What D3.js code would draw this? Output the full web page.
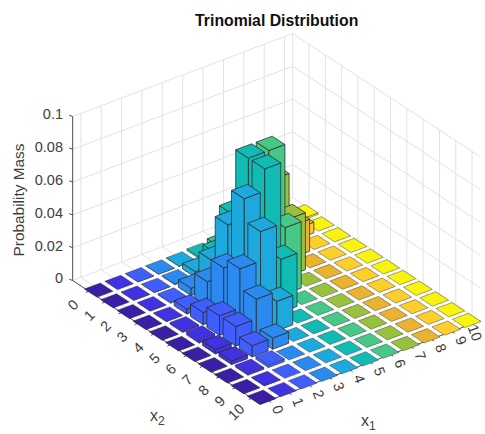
<!DOCTYPE html>
<html>
<head>
<meta charset="utf-8">
<script src="https://cdn.jsdelivr.net/npm/d3@7"></script>
<style>
  html, body { margin: 0; background: #fff; }
  text { font-family: "Liberation Sans", Arial, sans-serif; fill: #404040; }
</style>
</head>
<body>
<script>
var ticks = d3.range(0, 11),
    zTicks = [0, 0.02, 0.04, 0.06, 0.08, 0.1],
    zLabels = ["0", "0.02", "0.04", "0.06", "0.08", "0.1"];

// bar colour per x1 column
var colors = ["#3a1fa6", "#4032e2", "#3f5efc", "#2b8af0", "#1ea9de", "#10bbb4",
              "#47c886", "#98c23e", "#e9b22f", "#fccf2d", "#f8f40f"];

// heights, one list per x1, indexed by x2
var x1_0 = [0, 0, 0, 0.00002, 0.00006, 0.00013, 0.00022, 0.00025, 0.00019, 0.00008, 0.00002],
    x1_1 = [0, 0.00001, 0.00007, 0.00033, 0.001, 0.002, 0.00267, 0.00229, 0.00114, 0.00025, 0],
    x1_2 = [0.00001, 0.00011, 0.00075, 0.003, 0.0075, 0.012, 0.012, 0.00686, 0.00171, 0, 0],
    x1_3 = [0.00005, 0.00075, 0.0045, 0.015, 0.03, 0.036, 0.024, 0.00686, 0, 0, 0],
    x1_4 = [0.00028, 0.00338, 0.01688, 0.045, 0.0675, 0.054, 0.018, 0, 0, 0, 0],
    x1_5 = [0.00101, 0.01013, 0.0405, 0.081, 0.081, 0.0324, 0, 0, 0, 0, 0],
    x1_6 = [0.00253, 0.02026, 0.06076, 0.081, 0.0405, 0, 0, 0, 0, 0, 0],
    x1_7 = [0.00434, 0.02604, 0.05208, 0.03472, 0, 0, 0, 0, 0, 0, 0],
    x1_8 = [0.00488, 0.01953, 0.01953, 0, 0, 0, 0, 0, 0, 0, 0],
    x1_9 = [0.00326, 0.00651, 0, 0, 0, 0, 0, 0, 0, 0, 0],
    x1_10 = [0.00098, 0, 0, 0, 0, 0, 0, 0, 0, 0, 0];
var heights = [x1_0, x1_1, x1_2, x1_3, x1_4, x1_5, x1_6, x1_7, x1_8, x1_9, x1_10];

var width = 485,
    height = 434,
    x1Lim = [-0.4, 10.4],
    x2Lim = [-1, 10.5],
    zLim = [0, 0.1],
    halfBar = 0.39;

// left corner of the floor in pixels, the oblique axes are added onto it
var originX = 72.7,
    originY = 280.5;

var x1ToX = d3.scaleLinear().domain(x1Lim).range([0, 220]),
    x1ToY = d3.scaleLinear().domain(x1Lim).range([0, -83]),
    x2ToX = d3.scaleLinear().domain(x2Lim).range([0, 187.5]),
    x2ToY = d3.scaleLinear().domain(x2Lim).range([0, 123.2]),
    zToY = d3.scaleLinear().domain(zLim).range([0, -164]);

function project(x1, x2, z) {
  return [originX + x1ToX(x1) + x2ToX(x2),
          originY + x1ToY(x1) + x2ToY(x2) + zToY(z)];
}

// bars sit a little off the wall grid in the reference
function barProject(x1, x2, z) {
  var p = project(x1, x2, z);
  return [p[0] + 1.5 + x1 * 0.13, p[1] + 2];
}

var svg = d3.select("body").append("svg")
    .attr("width", width)
    .attr("height", height)
    .style("display", "block");

function segment(g, a, b) {
  return g.append("line")
      .attr("x1", a[0]).attr("y1", a[1])
      .attr("x2", b[0]).attr("y2", b[1]);
}

// grid on the two back walls and the floor
var grid = svg.append("g")
    .attr("stroke", "#e2e2e2")
    .attr("stroke-width", 1)
    .attr("fill", "none");

zTicks.forEach((z) => {
  segment(grid, project(x1Lim[0], x2Lim[0], z), project(x1Lim[1], x2Lim[0], z));
  segment(grid, project(x1Lim[1], x2Lim[0], z), project(x1Lim[1], x2Lim[1], z));
});
segment(grid, project(x1Lim[1], x2Lim[0], 0), project(x1Lim[1], x2Lim[0], zLim[1]));
ticks.forEach((t) => {
  segment(grid, project(t, x2Lim[0], 0), project(t, x2Lim[0], zLim[1]));
  segment(grid, project(x1Lim[1], t, 0), project(x1Lim[1], t, zLim[1]));
  segment(grid, project(t, x2Lim[0], 0), project(t, x2Lim[1], 0));
  segment(grid, project(x1Lim[0], t, 0), project(x1Lim[1], t, 0));
});

// axes lines
var axes = svg.append("g")
    .attr("stroke", "#4d4d4d")
    .attr("stroke-width", 1)
    .attr("fill", "none");

segment(axes, project(x1Lim[0], x2Lim[0], 0), project(x1Lim[0], x2Lim[0], zLim[1]));
segment(axes, project(x1Lim[0], x2Lim[0], 0), project(x1Lim[0], x2Lim[1], 0));
segment(axes, project(x1Lim[0], x2Lim[1], 0), project(x1Lim[1], x2Lim[1], 0));

zTicks.forEach((z) => {
  var p = project(x1Lim[0], x2Lim[0], z);
  segment(axes, p, [p[0] - 3.5, p[1] - 1.3]);
});
ticks.forEach((t) => {
  var a = project(t, x2Lim[1], 0),
      b = project(x1Lim[0], t, 0);
  segment(axes, a, [a[0] + 2.7, a[1] + 1.8]);
  segment(axes, b, [b[0] - 3.2, b[1] + 1.2]);
});

// bars back to front: far x1 first, then near x2 last
var cells = [];
d3.range(10, -1, -1).forEach((i) => {
  ticks.forEach((j) => {
    cells.push({x1: i, x2: j, z: heights[i][j]});
  });
});

function facePath(pts) {
  return d3.line()(pts) + "Z";
}

var bar = svg.append("g").selectAll(".bar")
    .data(cells)
  .enter().append("g")
    .attr("class", "bar")
    .attr("fill", (d) => colors[d.x1])
    .attr("stroke", "#2a2a2a")
    .attr("stroke-width", (d) => d.z > 0.002 ? 0.9 : 0.7)
    .attr("stroke-opacity", (d) => d.z > 0.002 ? 0.85 : 0.6)
    .attr("stroke-linejoin", "round");

// face towards the x1 = 0 side
bar.filter((d) => d.z > 0).append("path")
    .attr("d", (d) => facePath([
      barProject(d.x1 - halfBar, d.x2 - halfBar, d.z),
      barProject(d.x1 - halfBar, d.x2 + halfBar, d.z),
      barProject(d.x1 - halfBar, d.x2 + halfBar, 0),
      barProject(d.x1 - halfBar, d.x2 - halfBar, 0)
    ]));

// face towards the x2 = 10 side
bar.filter((d) => d.z > 0).append("path")
    .attr("d", (d) => facePath([
      barProject(d.x1 - halfBar, d.x2 + halfBar, d.z),
      barProject(d.x1 + halfBar, d.x2 + halfBar, d.z),
      barProject(d.x1 + halfBar, d.x2 + halfBar, 0),
      barProject(d.x1 - halfBar, d.x2 + halfBar, 0)
    ]));

// top
bar.append("path")
    .attr("d", (d) => facePath([
      barProject(d.x1 - halfBar, d.x2 - halfBar, d.z),
      barProject(d.x1 + halfBar, d.x2 - halfBar, d.z),
      barProject(d.x1 + halfBar, d.x2 + halfBar, d.z),
      barProject(d.x1 - halfBar, d.x2 + halfBar, d.z)
    ]));

// tick labels
svg.append("g").selectAll("text")
    .data(zTicks)
  .enter().append("text")
    .attr("x", 63)
    .attr("y", (d) => project(x1Lim[0], x2Lim[0], d)[1] + 2.8)
    .attr("text-anchor", "end")
    .attr("font-size", 14.5)
    .text((d, i) => zLabels[i]);

svg.append("g").selectAll("text")
    .data(ticks)
  .enter().append("text")
    .attr("transform", (d) => {
      var p = project(d, x2Lim[1], 0);
      return `translate(${Math.min(p[0] + 9.5, 475)},${p[1] + 9}) rotate(70)`;
    })
    .attr("text-anchor", "middle")
    .attr("dy", ".35em")
    .attr("font-size", 14.5)
    .text((d) => d);

svg.append("g").selectAll("text")
    .data(ticks)
  .enter().append("text")
    .attr("transform", (d) => {
      var p = project(x1Lim[0], d, 0);
      return `translate(${p[0] - 16},${p[1] + 13.5}) rotate(-45)`;
    })
    .attr("text-anchor", "middle")
    .attr("dy", ".35em")
    .attr("font-size", 14.5)
    .text((d) => d);

// axis labels and title
svg.append("text")
    .attr("transform", "translate(24,200) rotate(-90)")
    .attr("text-anchor", "middle")
    .attr("font-size", 15.4)
    .text("Probability Mass");

var x1Label = svg.append("text")
    .attr("x", 361)
    .attr("y", 426)
    .attr("font-size", 16)
    .text("x");
x1Label.append("tspan")
    .attr("dy", 3.5)
    .attr("font-size", 12)
    .text("1");

var x2Label = svg.append("text")
    .attr("x", 150)
    .attr("y", 421)
    .attr("font-size", 16)
    .text("x");
x2Label.append("tspan")
    .attr("dy", 4)
    .attr("font-size", 12)
    .text("2");

svg.append("text")
    .attr("x", 276.7)
    .attr("y", 26)
    .attr("text-anchor", "middle")
    .attr("font-size", 15.8)
    .attr("font-weight", "bold")
    .style("fill", "#111")
    .text("Trinomial Distribution");
</script>
</body>
</html>
